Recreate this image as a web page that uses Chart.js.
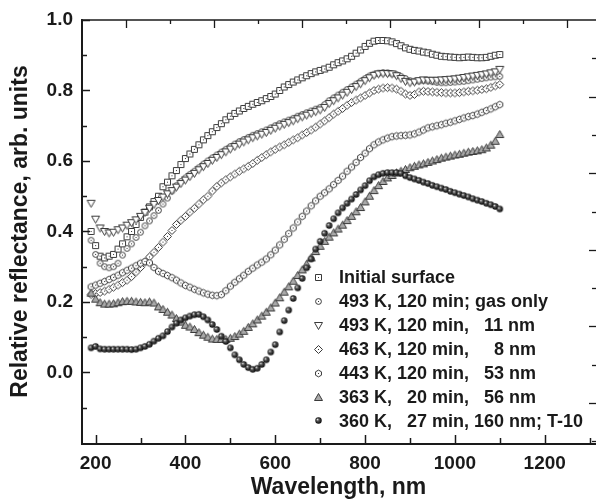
<!DOCTYPE html>
<html><head><meta charset="utf-8">
<script src="https://cdn.jsdelivr.net/npm/chart.js@4.4.1/dist/chart.umd.min.js"></script>
<style>html,body{margin:0;padding:0;background:#fff;}#c{display:block;}</style>
</head><body>
<canvas id="c" width="601" height="501"></canvas>
<script>
// ---------- DATA ----------
const wavelengths = [
  190,200,210,220,230,240,250,260,270,280,
  290,300,310,320,330,340,350,360,370,380,
  390,400,410,420,430,440,450,460,470,480,
  490,500,510,520,530,540,550,560,570,580,
  590,600,610,620,630,640,650,660,670,680,
  690,700,710,720,730,740,750,760,770,780,
  790,800,810,820,830,840,850,860,870,880,
  890,900,910,920,930,940,950,960,970,980,
  990,1000,1010,1020,1030,1040,1050,1060,1070,1080,
  1090,1100];

const initialSurface = [
  0.40,0.36,0.33,0.325,0.33,0.335,0.35,0.365,0.385,0.40,
  0.42,0.44,0.455,0.47,0.485,0.50,0.527,0.54,0.558,0.573,
  0.59,0.607,0.62,0.633,0.646,0.66,0.672,0.683,0.695,0.706,
  0.717,0.727,0.735,0.742,0.749,0.755,0.761,0.766,0.771,0.777,
  0.783,0.79,0.80,0.81,0.817,0.824,0.83,0.836,0.842,0.848,
  0.853,0.857,0.861,0.866,0.873,0.879,0.884,0.89,0.897,0.906,
  0.915,0.925,0.934,0.94,0.942,0.942,0.941,0.938,0.933,0.927,
  0.921,0.917,0.914,0.912,0.909,0.907,0.903,0.9,0.897,0.896,
  0.895,0.894,0.893,0.894,0.895,0.894,0.893,0.893,0.894,0.897,
  0.9,0.902];

const k493GasOnly = [
  0.375,0.335,0.31,0.30,0.297,0.30,0.31,0.333,0.352,0.365,
  0.383,0.398,0.416,0.43,0.445,0.46,0.478,0.495,0.515,0.53,
  0.542,0.552,0.562,0.571,0.581,0.591,0.60,0.609,0.617,0.625,
  0.633,0.641,0.648,0.655,0.661,0.667,0.673,0.678,0.683,0.688,
  0.694,0.70,0.706,0.711,0.716,0.721,0.727,0.732,0.737,0.742,
  0.747,0.752,0.76,0.771,0.779,0.787,0.795,0.803,0.81,0.818,
  0.826,0.834,0.841,0.846,0.849,0.851,0.85,0.848,0.845,0.84,
  0.834,0.828,0.826,0.827,0.828,0.827,0.825,0.823,0.822,0.822,
  0.823,0.824,0.825,0.826,0.828,0.83,0.832,0.834,0.836,0.838,
  0.839,0.84];

const k493_11nm = [
  0.48,0.435,0.41,0.40,0.396,0.398,0.405,0.41,0.418,0.425,
  0.433,0.443,0.454,0.466,0.477,0.488,0.498,0.507,0.516,0.526,
  0.536,0.546,0.556,0.565,0.575,0.584,0.593,0.602,0.61,0.618,
  0.626,0.634,0.641,0.648,0.654,0.66,0.666,0.671,0.676,0.681,
  0.687,0.693,0.699,0.704,0.709,0.714,0.72,0.725,0.73,0.735,
  0.74,0.745,0.752,0.763,0.771,0.779,0.787,0.795,0.803,0.811,
  0.819,0.828,0.836,0.843,0.847,0.848,0.848,0.847,0.842,0.834,
  0.826,0.822,0.824,0.828,0.83,0.829,0.829,0.829,0.83,0.831,
  0.832,0.833,0.835,0.837,0.839,0.841,0.843,0.845,0.847,0.85,
  0.853,0.86];

const k463_8nm = [
  0.221,0.224,0.227,0.231,0.236,0.242,0.248,0.255,0.262,0.272,
  0.285,0.298,0.313,0.328,0.341,0.355,0.37,0.386,0.403,0.42,
  0.432,0.443,0.455,0.466,0.478,0.49,0.50,0.515,0.528,0.538,
  0.547,0.555,0.563,0.571,0.578,0.585,0.593,0.602,0.61,0.618,
  0.626,0.633,0.64,0.646,0.653,0.66,0.666,0.674,0.681,0.688,
  0.696,0.705,0.714,0.723,0.733,0.741,0.749,0.758,0.766,0.773,
  0.779,0.786,0.793,0.80,0.804,0.807,0.808,0.807,0.804,0.798,
  0.79,0.786,0.789,0.796,0.798,0.797,0.796,0.795,0.794,0.793,
  0.793,0.793,0.794,0.796,0.798,0.799,0.801,0.803,0.805,0.809,
  0.813,0.817];

const k443_53nm = [
  0.243,0.248,0.253,0.258,0.264,0.27,0.276,0.283,0.29,0.296,
  0.303,0.31,0.315,0.311,0.298,0.287,0.281,0.275,0.269,0.262,
  0.254,0.247,0.242,0.236,0.231,0.226,0.222,0.219,0.218,0.221,
  0.232,0.245,0.256,0.266,0.276,0.287,0.296,0.305,0.313,0.322,
  0.334,0.347,0.362,0.378,0.394,0.41,0.427,0.443,0.458,0.473,
  0.487,0.50,0.51,0.521,0.533,0.545,0.557,0.571,0.583,0.596,
  0.61,0.622,0.635,0.646,0.654,0.66,0.665,0.669,0.671,0.672,
  0.673,0.674,0.677,0.682,0.688,0.694,0.697,0.70,0.703,0.707,
  0.71,0.714,0.718,0.722,0.726,0.729,0.733,0.738,0.743,0.748,
  0.754,0.76];

const k363_56nm = [
  0.225,0.208,0.198,0.194,0.194,0.195,0.198,0.201,0.202,0.202,
  0.20,0.199,0.198,0.20,0.197,0.186,0.179,0.171,0.163,0.153,
  0.143,0.134,0.129,0.122,0.113,0.106,0.10,0.095,0.094,0.094,
  0.094,0.097,0.102,0.109,0.117,0.128,0.138,0.149,0.16,0.171,
  0.183,0.197,0.212,0.228,0.243,0.259,0.275,0.291,0.307,0.325,
  0.343,0.358,0.372,0.384,0.396,0.407,0.418,0.431,0.443,0.456,
  0.468,0.484,0.50,0.516,0.53,0.542,0.552,0.559,0.566,0.571,
  0.576,0.581,0.585,0.589,0.592,0.596,0.60,0.604,0.608,0.611,
  0.614,0.617,0.619,0.622,0.625,0.627,0.629,0.632,0.637,0.645,
  0.656,0.675];

const k360_T10 = [
  0.07,0.074,0.067,0.066,0.066,0.066,0.066,0.066,0.066,0.065,
  0.066,0.07,0.074,0.08,0.089,0.097,0.104,0.116,0.129,0.14,
  0.149,0.155,0.16,0.164,0.165,0.158,0.149,0.136,0.122,0.103,
  0.088,0.07,0.05,0.036,0.023,0.014,0.009,0.012,0.023,0.036,
  0.058,0.079,0.115,0.147,0.177,0.21,0.24,0.267,0.297,0.322,
  0.35,0.372,0.395,0.417,0.436,0.453,0.467,0.48,0.492,0.505,
  0.518,0.53,0.544,0.555,0.561,0.565,0.567,0.567,0.567,0.565,
  0.558,0.553,0.549,0.545,0.54,0.536,0.531,0.527,0.523,0.519,
  0.514,0.51,0.506,0.502,0.498,0.493,0.489,0.485,0.48,0.476,
  0.471,0.464];

const seriesLabels = [
  "Initial surface",
  "493 K, 120 min; gas only",
  "493 K, 120 min,   11 nm",
  "463 K, 120 min,     8 nm",
  "443 K, 120 min,   53 nm",
  "363 K,   20 min,   56 nm",
  "360 K,   27 min, 160 nm; T-10"
];
const seriesValues = [initialSurface, k493GasOnly, k493_11nm, k463_8nm, k443_53nm, k363_56nm, k360_T10];
const markerKinds = ['square','circle','triDown','diamond','hexagon','triUp','sphere'];

const xTickValues = [200,400,600,800,1000,1200];
const xMinorTicks = [300,500,700,900,1100,1300];
const yTickValues = [0.0,0.2,0.4,0.6,0.8,1.0];
const yMinorTicks = [-0.1,0.1,0.3,0.5,0.7,0.9];
const topMajorTicks = [2,4,6,8,10,12];
const topMinorTicks = [3,5,7,9,11];
const rightMajorTicks = [0,2,4,6,8];
const rightMinorTicks = [-1,1,3,5,7,9];

// ---------- STYLE ----------
const FONT = "'Liberation Sans', Arial, Helvetica, sans-serif";
const INK = '#1a1a1a';

function marker(kind){
  const s = 13, c = document.createElement('canvas');
  c.width = s; c.height = s;
  const g = c.getContext('2d');
  const m = s / 2;
  g.lineWidth = 1; g.strokeStyle = '#3a3a3a'; g.fillStyle = '#ffffff';
  g.beginPath();
  let dot = true;
  if (kind === 'square') { g.rect(3.5, 3.5, 6, 6); }
  else if (kind === 'circle') { g.arc(m, m, 2.9, 0, Math.PI*2); }
  else if (kind === 'triDown') { g.moveTo(2.5,3.5); g.lineTo(10.5,3.5); g.lineTo(6.5,10.5); g.closePath(); dot = false; }
  else if (kind === 'diamond') { g.moveTo(6.5,2.5); g.lineTo(10.5,6.5); g.lineTo(6.5,10.5); g.lineTo(2.5,6.5); g.closePath(); }
  else if (kind === 'hexagon') {
    for (let k = 0; k < 6; k++) { const a = Math.PI/6 + k*Math.PI/3; const px = m + 3.4*Math.cos(a), py = m + 3.4*Math.sin(a); k ? g.lineTo(px,py) : g.moveTo(px,py); }
    g.closePath();
  }
  else if (kind === 'triUp') { g.moveTo(6.5,2.5); g.lineTo(10.5,9.5); g.lineTo(2.5,9.5); g.closePath(); g.fillStyle = '#a9a9a9'; dot = false; }
  else if (kind === 'sphere') {
    const gr = g.createRadialGradient(5.3, 5.3, 0.2, m, m, 3.4);
    gr.addColorStop(0, '#e8e8e8'); gr.addColorStop(0.35, '#555'); gr.addColorStop(1, '#000');
    g.arc(m, m, 3.2, 0, Math.PI*2); g.fillStyle = gr; g.fill(); return c;
  }
  g.fill(); g.stroke();
  if (dot) { g.fillStyle = '#333'; g.fillRect(6, 6, 1, 1); }
  return c;
}
const markerImages = markerKinds.map(marker);

const datasets = seriesValues.map((vals, i) => ({
  label: seriesLabels[i],
  data: wavelengths.map((w, j) => ({ x: w, y: vals[j] })),
  showLine: false,
  pointStyle: markerImages[i],
  pointRadius: 4,
  order: seriesValues.length - i
}));

const framePlugin = {
  id: 'frame',
  afterDraw(chart) {
    const { ctx, chartArea: a, scales } = chart;
    ctx.save();
    ctx.strokeStyle = INK;
    const tick = (x1, y1, x2, y2, w) => { ctx.lineWidth = w; ctx.beginPath(); ctx.moveTo(x1, y1); ctx.lineTo(x2, y2); ctx.stroke(); };
    // frame lines
    tick(a.left, a.top, a.right, a.top, 1.5);
    tick(a.left + 1, a.top - 0.75, a.left + 1, a.bottom + 1, 2);
    tick(a.left, a.bottom + 1, a.right, a.bottom + 1, 2);
    // bottom ticks (inward)
    xTickValues.forEach(v => { const p = Math.round(scales.x.getPixelForValue(v)) + 0.5; tick(p, a.bottom, p, a.bottom - 8, 1.5); });
    xMinorTicks.forEach(v => { const p = Math.round(scales.x.getPixelForValue(v)) + 0.5; tick(p, a.bottom, p, a.bottom - 5, 1.5); });
    // left ticks
    yTickValues.forEach(v => { const p = Math.round(scales.y.getPixelForValue(v)) + 0.5; tick(a.left, p, a.left + 9, p, 1.5); });
    yMinorTicks.forEach(v => { const p = Math.round(scales.y.getPixelForValue(v)) + 0.5; tick(a.left, p, a.left + 6, p, 1.5); });
    // top ticks
    topMajorTicks.forEach(v => { const p = Math.round(scales.xTop.getPixelForValue(v)) + 0.5; tick(p, a.top, p, a.top + 8, 1.3); });
    topMinorTicks.forEach(v => { const p = Math.round(scales.xTop.getPixelForValue(v)) + 0.5; tick(p, a.top, p, a.top + 4, 1.3); });
    // right ticks
    rightMajorTicks.forEach(v => { const p = Math.round(scales.yRight.getPixelForValue(v)) + 0.5; tick(a.right, p, a.right - 7, p, 1.3); });
    rightMinorTicks.forEach(v => { const p = Math.round(scales.yRight.getPixelForValue(v)) + 0.5; tick(a.right, p, a.right - 4, p, 1.3); });
    // legend
    ctx.font = 'bold 18px ' + FONT;
    ctx.fillStyle = INK;
    ctx.textBaseline = 'middle';
    ctx.textAlign = 'left';
    const lx = 318, ly = 277.5, step = 23.9;
    chart.data.datasets.forEach((ds, i) => {
      const y = ly + i * step;
      const img = ds.pointStyle;
      ctx.drawImage(img, Math.round(lx - img.width / 2), Math.round(y - img.height / 2));
      ctx.fillText(ds.label, 339, y + 1);
    });
    ctx.restore();
  }
};

new Chart(document.getElementById('c'), {
  type: 'scatter',
  data: { datasets },
  options: {
    responsive: false,
    animation: false,
    events: [],
    layout: { padding: { top: 20, right: 1, left: 0, bottom: 0 } },
    plugins: { legend: { display: false }, tooltip: { enabled: false } },
    scales: {
      x: {
        type: 'linear', position: 'bottom', min: 167.5, max: 1314.2,
        grid: { display: false, drawTicks: false }, border: { display: false },
        ticks: { font: { family: FONT, size: 19, weight: 'bold' }, color: INK, padding: 9, maxRotation: 0, autoSkip: false, callback: v => String(v) },
        afterBuildTicks: s => { s.ticks = xTickValues.map(v => ({ value: v })); },
        afterFit: s => { s.height = 58; },
        title: { display: true, text: 'Wavelength, nm', color: INK, font: { family: FONT, size: 23, weight: 'bold' }, padding: { top: 0, bottom: 0 } }
      },
      y: {
        type: 'linear', position: 'left', min: -0.2, max: 1.0,
        grid: { display: false, drawTicks: false }, border: { display: false },
        ticks: { font: { family: FONT, size: 19, weight: 'bold' }, color: INK, padding: 8, callback: v => Number(v).toFixed(1) },
        afterBuildTicks: s => { s.ticks = yTickValues.map(v => ({ value: v })); },
        afterFit: s => { s.width = 81; },
        title: { display: true, text: 'Relative reflectance, arb. units', color: INK, font: { family: FONT, size: 23, weight: 'bold' }, padding: { top: 6.5, bottom: 0 } }
      },
      xTop: { type: 'linear', position: 'top', display: false, min: 0.988, max: 12.659 },
      yRight: { type: 'linear', position: 'right', display: false, min: -1.044, max: 10 }
    }
  },
  plugins: [framePlugin]
});
</script>
</body></html>
